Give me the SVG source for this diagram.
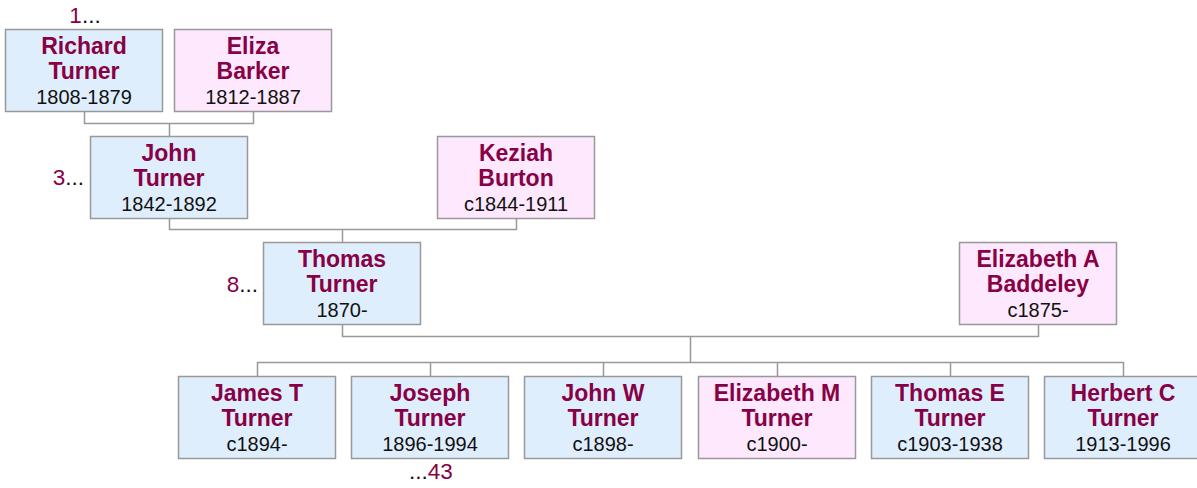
<svg xmlns="http://www.w3.org/2000/svg" width="1197" height="488" viewBox="0 0 1197 488">
<style>
text{font-family:"Liberation Sans",Arial,sans-serif;text-anchor:middle}
.m rect{fill:#dfeefd;stroke:#999;stroke-width:1.5}
.f rect{fill:#fde8fd;stroke:#999;stroke-width:1.5}
.n{font-weight:bold;font-size:23px;fill:#880045}
.d{font-size:20px;fill:#111}
.lbl{font-size:22.5px;fill:#111}
.r{fill:#880045}
.c{fill:none;stroke:#999;stroke-width:1.5}
</style>
<rect width="1197" height="488" fill="#fff"/>
<g id="connectors" class="c">
<path d="M84.5 112V123.5H253.5V112M169.5 123.5V136"/>
<path d="M169.5 219V229.5H516.5V219M342.5 229.5V243"/>
<path d="M342.5 325V336.5H1038.5V325M690.5 336.5V362.5"/>
<path d="M257.5 376V362.5H1123.5V376M430.5 362.5V376M603.5 362.5V376M777.5 362.5V376M950.5 362.5V376"/>
</g>
<g id="labels">
<text class="lbl" x="85" y="23"><tspan class="r">1</tspan>...</text>
<text class="lbl" x="84" y="185" style="text-anchor:end"><tspan class="r">3</tspan>...</text>
<text class="lbl" x="258" y="292" style="text-anchor:end"><tspan class="r">8</tspan>...</text>
<text class="lbl" x="431" y="479">...<tspan class="r">43</tspan></text>
</g>
<g id="richard" class="m"><rect x="5.5" y="29.5" width="157" height="82"/><text x="84" y="54" class="n">Richard</text><text x="84" y="79" class="n">Turner</text><text x="84" y="104" class="d">1808-1879</text></g>
<g id="eliza" class="f"><rect x="174.5" y="29.5" width="157" height="82"/><text x="253" y="54" class="n">Eliza</text><text x="253" y="79" class="n">Barker</text><text x="253" y="104" class="d">1812-1887</text></g>
<g id="john" class="m"><rect x="90.5" y="136.5" width="157" height="82"/><text x="169" y="161" class="n">John</text><text x="169" y="186" class="n">Turner</text><text x="169" y="211" class="d">1842-1892</text></g>
<g id="keziah" class="f"><rect x="437.5" y="136.5" width="157" height="82"/><text x="516" y="161" class="n">Keziah</text><text x="516" y="186" class="n">Burton</text><text x="516" y="211" class="d">c1844-1911</text></g>
<g id="thomas" class="m"><rect x="263.5" y="242.5" width="157" height="82"/><text x="342" y="267" class="n">Thomas</text><text x="342" y="292" class="n">Turner</text><text x="342" y="317" class="d">1870-</text></g>
<g id="elizabetha" class="f"><rect x="959.5" y="242.5" width="157" height="82"/><text x="1038" y="267" class="n">Elizabeth A</text><text x="1038" y="292" class="n">Baddeley</text><text x="1038" y="317" class="d">c1875-</text></g>
<g id="james" class="m"><rect x="178.5" y="376.5" width="157" height="82"/><text x="257" y="401" class="n">James T</text><text x="257" y="426" class="n">Turner</text><text x="257" y="451" class="d">c1894-</text></g>
<g id="joseph" class="m"><rect x="351.5" y="376.5" width="157" height="82"/><text x="430" y="401" class="n">Joseph</text><text x="430" y="426" class="n">Turner</text><text x="430" y="451" class="d">1896-1994</text></g>
<g id="johnw" class="m"><rect x="524.5" y="376.5" width="157" height="82"/><text x="603" y="401" class="n">John W</text><text x="603" y="426" class="n">Turner</text><text x="603" y="451" class="d">c1898-</text></g>
<g id="elizabethm" class="f"><rect x="698.5" y="376.5" width="157" height="82"/><text x="777" y="401" class="n">Elizabeth M</text><text x="777" y="426" class="n">Turner</text><text x="777" y="451" class="d">c1900-</text></g>
<g id="thomase" class="m"><rect x="871.5" y="376.5" width="157" height="82"/><text x="950" y="401" class="n">Thomas E</text><text x="950" y="426" class="n">Turner</text><text x="950" y="451" class="d">c1903-1938</text></g>
<g id="herbert" class="m"><rect x="1044.5" y="376.5" width="157" height="82"/><text x="1123" y="401" class="n">Herbert C</text><text x="1123" y="426" class="n">Turner</text><text x="1123" y="451" class="d">1913-1996</text></g>
</svg>
